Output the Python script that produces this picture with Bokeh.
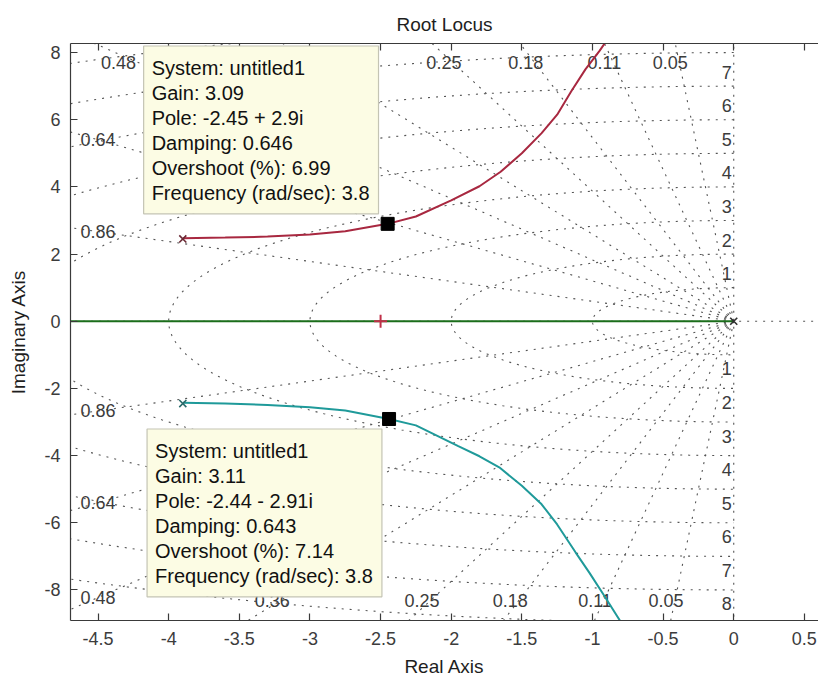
import numpy as np
from bokeh.plotting import figure
from bokeh.models import Range1d, LinearAxis, FixedTicker, Label, NumeralTickFormatter
from bokeh.core.properties import value
from bokeh.embed import file_html
from bokeh.resources import INLINE

# ---------------- data ----------------
TITLE = "Root Locus"
X_LABEL = "Real Axis"
Y_LABEL = "Imaginary Axis"

X_TICKS = [-4.5, -4.0, -3.5, -3.0, -2.5, -2.0, -1.5, -1.0, -0.5, 0.0, 0.5]
X_TICK_LABELS = ["-4.5", "-4", "-3.5", "-3", "-2.5", "-2", "-1.5", "-1", "-0.5", "0", "0.5"]
Y_TICKS = [-8, -6, -4, -2, 0, 2, 4, 6, 8]
Y_TICK_LABELS = ["-8", "-6", "-4", "-2", "0", "2", "4", "6", "8"]

X_LIMITS = [-4.695, 0.60]
Y_LIMITS = [-8.91, 8.27]

DAMPING = [0.05, 0.11, 0.18, 0.25, 0.36, 0.48, 0.64, 0.86]
DAMPING_LABELS = ["0.05", "0.11", "0.18", "0.25", "0.36", "0.48", "0.64", "0.86"]
NAT_FREQ = [1, 2, 3, 4, 5, 6, 7, 8, 9]
NAT_FREQ_LABELED = [1, 2, 3, 4, 5, 6, 7, 8]
NAT_FREQ_LABELS = ["1", "2", "3", "4", "5", "6", "7", "8"]

POLES_RE = [-3.9, -3.9, 0.0]
POLES_IM = [2.45, -2.45, 0.0]

# branch 1: real axis, from the pole at the origin to the left
BRANCH1_RE = [0.0, -1.0, -2.0, -3.0, -4.0, -5.0]
BRANCH1_IM = [0.0, 0.0, 0.0, 0.0, 0.0, 0.0]
# branch 2: upper complex branch
BRANCH2_RE = [-3.90, -3.60, -3.30, -3.00, -2.75, -2.45, -2.25, -2.00, -1.80, -1.65,
              -1.50, -1.36, -1.25, -1.15, -1.05, -0.95, -0.86, -0.78]
BRANCH2_IM = [2.47, 2.49, 2.52, 2.58, 2.68, 2.90, 3.12, 3.60, 4.02, 4.45,
              5.00, 5.60, 6.15, 6.85, 7.50, 8.05, 8.60, 9.20]
# branch 3: lower complex branch
BRANCH3_RE = [-3.90, -3.60, -3.30, -3.00, -2.75, -2.44, -2.25, -1.95, -1.80, -1.66,
              -1.50, -1.36, -1.25, -1.12, -1.02, -0.92, -0.80]
BRANCH3_IM = [-2.43, -2.45, -2.49, -2.56, -2.66, -2.91, -3.10, -3.72, -4.02, -4.35,
              -4.90, -5.45, -6.05, -6.88, -7.50, -8.15, -8.95]

CENTROID_RE = [-2.5]
CENTROID_IM = [0.0]

TIP1_RE = -2.45
TIP1_IM = 2.9
TIP1_LINES = ["System: untitled1", "Gain: 3.09", "Pole: -2.45 + 2.9i",
              "Damping: 0.646", "Overshoot (%): 6.99", "Frequency (rad/sec): 3.8"]
TIP2_RE = -2.44
TIP2_IM = -2.91
TIP2_LINES = ["System: untitled1", "Gain: 3.11", "Pole: -2.44 - 2.91i",
              "Damping: 0.643", "Overshoot (%): 7.14", "Frequency (rad/sec): 3.8"]

# ---------------- styles ----------------
FONT = "Liberation Sans"
AX_COLOR = "#3a3a3a"
TICK_TEXT = "#3c3c3c"
GRID_COLOR = "#555555"
GRID_DASH = "2 6"

p = figure(width=818, height=680,
           x_range=Range1d(*X_LIMITS), y_range=Range1d(*Y_LIMITS),
           output_backend="svg", toolbar_location=None, title=TITLE,
           min_border_left=70, min_border_right=0,
           min_border_top=43, min_border_bottom=60)
p.outline_line_color = None
p.xgrid.visible = False
p.ygrid.visible = False
p.background_fill_color = "white"
p.border_fill_color = "white"

p.title.text_font = FONT
p.title.text_font_size = "19px"
p.title.text_font_style = "normal"
p.title.text_color = "#1e1e1e"
p.title.align = "center"
p.title.standoff = 18


def style_axis(ax, ticks, labels, show=True):
    ax.ticker = FixedTicker(ticks=ticks)
    ax.formatter = NumeralTickFormatter(format="0.[0]")
    ax.major_label_overrides = {t: l for t, l in zip(ticks, labels)}
    ax.major_tick_in = 7
    ax.major_tick_out = 0
    ax.minor_tick_in = 0
    ax.minor_tick_out = 0
    ax.axis_line_color = AX_COLOR
    ax.axis_line_width = 1.2
    ax.major_tick_line_color = AX_COLOR
    ax.major_tick_line_width = 1.2
    ax.major_label_text_font = FONT
    if show:
        ax.major_label_text_font_size = "18px"
        ax.major_label_text_color = TICK_TEXT
    else:
        ax.major_label_text_font_size = "1px"
        ax.major_label_text_color = None
        ax.major_label_standoff = 0


xax = p.xaxis[0]
yax = p.yaxis[0]
style_axis(xax, X_TICKS, X_TICK_LABELS)
style_axis(yax, Y_TICKS, Y_TICK_LABELS)
xax.major_label_standoff = 11
yax.major_label_standoff = 10
xax.axis_label = X_LABEL
yax.axis_label = Y_LABEL
for ax in (xax, yax):
    ax.axis_label_text_font = FONT
    ax.axis_label_text_font_size = "19px"
    ax.axis_label_text_font_style = "normal"
    ax.axis_label_text_color = "#1e1e1e"
xax.axis_label_standoff = 8
yax.axis_label_standoff = 12

top_ax = LinearAxis()
style_axis(top_ax, X_TICKS, X_TICK_LABELS, show=False)
p.add_layout(top_ax, "above")

# ---------------- s-plane grid ----------------
R = 40.0
theta = np.linspace(np.pi / 2, 3 * np.pi / 2, 241)
grid_xs, grid_ys = [], []
for w in NAT_FREQ:
    grid_xs.append(list(w * np.cos(theta)))
    grid_ys.append(list(w * np.sin(theta)))
for z in DAMPING:
    s = np.sqrt(1 - z * z)
    grid_xs.append([0.0, -z * R])
    grid_ys.append([0.0, s * R])
    grid_xs.append([0.0, -z * R])
    grid_ys.append([0.0, -s * R])
grid_xs.append([0.0, 0.0])
grid_ys.append([-R, R])
grid_xs.append([-R, R])
grid_ys.append([0.0, 0.0])
p.multi_line(xs=grid_xs, ys=grid_ys, line_color=GRID_COLOR, line_width=1.1,
             line_dash=GRID_DASH)

# damping labels
lab_top, lab_bot, lab_left = 7.7, -8.3, -4.5
dx, dy, dtxt, doff = [], [], [], []
for z, t in zip(DAMPING, DAMPING_LABELS):
    s = np.sqrt(1 - z * z)
    for sign, ylab in ((1, lab_top), (-1, lab_bot)):
        tx = abs(lab_left) / z
        ty = abs(ylab) / s
        tt = min(tx, ty)
        dx.append(-z * tt)
        dy.append(sign * s * tt)
        dtxt.append(t)
        if ty < tx:
            doff.append(-20 if -z * tt < -4.0 else -9)
        else:
            doff.append(0)
p.text(x=dx, y=dy, text=dtxt, x_offset=doff, text_align="center", text_baseline="middle",
       text_font=value(FONT), text_font_size="18px", text_color=TICK_TEXT)

# natural-frequency labels
fx, fy, ft, fo = [], [], [], []
for w, t in zip(NAT_FREQ_LABELED, NAT_FREQ_LABELS):
    if w + 0.45 < Y_LIMITS[1] - 0.2:
        fx.append(0.0); fy.append(w); ft.append(t); fo.append(-14)
    if -w - 0.45 > Y_LIMITS[0] + 0.2:
        fx.append(0.0); fy.append(-w); ft.append(t); fo.append(14)
p.text(x=fx, y=fy, text=ft, y_offset=fo, x_offset=-2, text_align="right",
       text_baseline="middle", text_font=value(FONT), text_font_size="18px",
       text_color=TICK_TEXT)

# ---------------- root locus ----------------
p.line(BRANCH1_RE, BRANCH1_IM, line_color="#1b6e1b", line_width=2)
p.line(BRANCH2_RE, BRANCH2_IM, line_color="#a82840", line_width=2)
p.line(BRANCH3_RE, BRANCH3_IM, line_color="#1f9a9a", line_width=2)
p.scatter(CENTROID_RE, CENTROID_IM, marker="cross", size=13, line_color="#c03048",
          line_width=2)
p.scatter(POLES_RE, POLES_IM, marker="x", size=10,
          line_color=["#6a2a35", "#2a6a6a", "#303030"], line_width=1.6)

# data tip markers
p.scatter([TIP1_RE, TIP2_RE], [TIP1_IM, TIP2_IM], marker="square", size=13,
          fill_color="black", line_color="black")

# padding order: (left, right, top, bottom)
TIP_STYLE = dict(text_font=FONT, text_font_size="20px", text_color="#111111",
                 text_line_height=1.135, background_fill_color="#fcfce4",
                 border_line_color="#c4c4b4", border_line_width=1.2,
                 padding=(8, 9, 11, 10))
tip1 = Label(x=TIP1_RE, y=TIP1_IM, text="\n".join(TIP1_LINES), text_align="left",
             text_baseline="bottom", x_offset=-244, y_offset=10, **TIP_STYLE)
tip2 = Label(x=TIP2_RE, y=TIP2_IM, text="\n".join(TIP2_LINES), text_align="left",
             text_baseline="top", x_offset=-242, y_offset=-10, **TIP_STYLE)
p.add_layout(tip1)
p.add_layout(tip2)

open("out.html", "w").write(file_html(p, INLINE))
